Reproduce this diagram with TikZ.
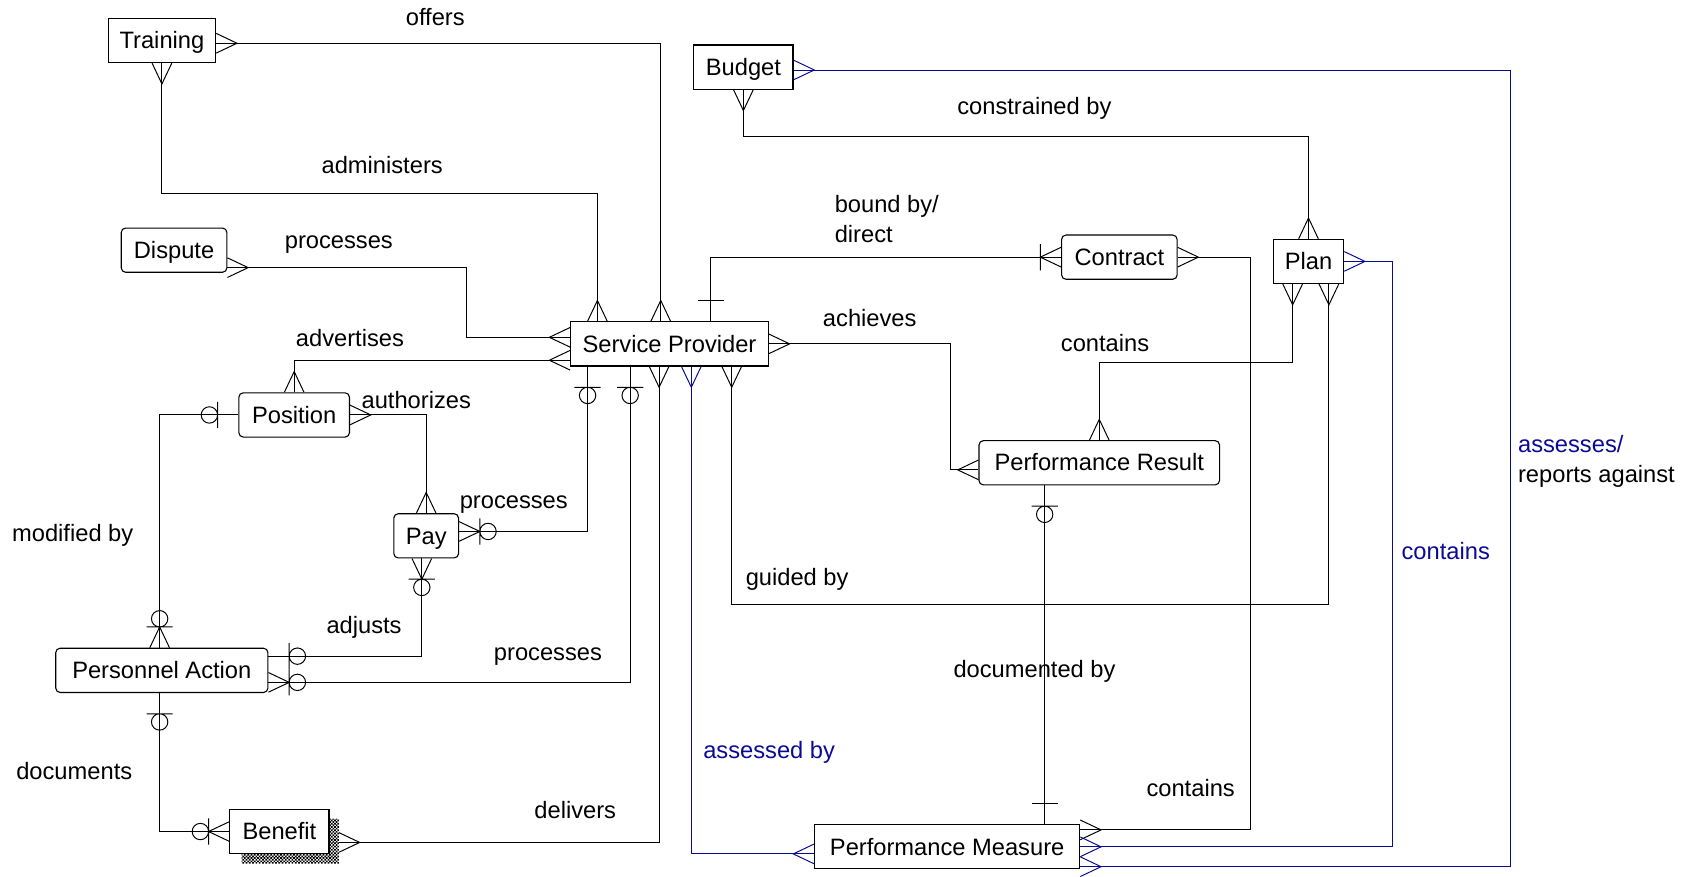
\documentclass[tikz,border=0pt]{standalone}
\usepackage{fontspec}
\setmainfont{Liberation Sans}
\usetikzlibrary{patterns}

\definecolor{erblue}{RGB}{10,10,150}

% crow's foot parts
\newcommand{\ersetup}{\pgfarrowssettipend{0pt}\pgfarrowssetlineend{0pt}\pgfarrowssetbackend{-34pt}%
	\pgfarrowshullpoint{0pt}{12pt}\pgfarrowshullpoint{0pt}{-12pt}%
	\pgfarrowshullpoint{-34pt}{12pt}\pgfarrowshullpoint{-34pt}{-12pt}}
\newcommand{\ercrow}{\pgfpathmoveto{\pgfqpoint{0pt}{9pt}}\pgfpathlineto{\pgfqpoint{-19pt}{0pt}}\pgfpathlineto{\pgfqpoint{0pt}{-9pt}}}
\newcommand{\erbar}{\pgfpathmoveto{\pgfqpoint{-19pt}{12pt}}\pgfpathlineto{\pgfqpoint{-19pt}{-12pt}}}
\newcommand{\erring}{\pgfpathcircle{\pgfqpoint{-26.5pt}{0pt}}{7.5pt}}

\pgfdeclarearrow{name = crow, setup code = {\ersetup}, drawing code = {\ercrow\pgfusepathqstroke}}
\pgfdeclarearrow{name = crowbar, setup code = {\ersetup}, drawing code = {\ercrow\erbar\pgfusepathqstroke}}
\pgfdeclarearrow{name = onebar, setup code = {\ersetup}, drawing code = {\erbar\pgfusepathqstroke}}
\pgfdeclarearrow{name = zeroone, setup code = {\ersetup}, drawing code = {\erbar\erring\pgfusepathqstroke}}
\pgfdeclarearrow{name = zeromany, setup code = {\ersetup}, drawing code = {\ercrow\erbar\erring\pgfusepathqstroke}}

% small checks for the shadow
\pgfdeclarepatternformonly{finechecker}{\pgfqpoint{-.1pt}{-.1pt}}{\pgfqpoint{3.1pt}{3.1pt}}{\pgfqpoint{3pt}{3pt}}{%
	\pgfpathrectangle{\pgfqpoint{0pt}{0pt}}{\pgfqpoint{1.55pt}{1.55pt}}%
	\pgfpathrectangle{\pgfqpoint{1.5pt}{1.5pt}}{\pgfqpoint{1.55pt}{1.55pt}}%
	\pgfusepath{fill}}

\begin{document}
\begin{tikzpicture}[x = 1pt, y = -1pt, line width = .9pt,
	box/.style = {draw = black, fill = white, line width = 1pt, inner sep = 0pt, minimum height = 40.5pt, text height = 17.5pt, text depth = 2.5pt, font = \fontsize{21.7}{26}\selectfont},
	rbox/.style = {box, rounded corners = 4pt},
	lbl/.style = {inner sep = 0pt, anchor = base, font = \fontsize{21.7}{27.5}\selectfont}]
	\useasboundingbox (0, 0) rectangle (1559.6, 803.1);

	% entities
	\node (training) at (148.3, 37.1) [box, minimum width = 98.5pt] {Training};
	\node (dispute) at (159.4, 229.1) [rbox, minimum width = 96.7pt] {Dispute};
	\node (position) at (269.4, 380) [rbox, minimum width = 101.3pt] {Position};
	\node (pay) at (390.3, 490.7) [rbox, minimum width = 59.3pt] {Pay};
	\node (action) at (148.2, 613.9) [rbox, minimum width = 194.3pt] {Personnel Action};
	\node (benefit) at (255.9, 761.5) [box, minimum width = 90.8pt] {Benefit};
	\node (provider) at (613.1, 314.9) [box, minimum width = 181pt] {Service Provider};
	\node (budget) at (680.8, 61.5) [box, minimum width = 90.9pt] {Budget};
	\node (contract) at (1025.1, 235.5) [rbox, minimum width = 105.8pt] {Contract};
	\node (plan) at (1198.3, 239.4) [box, minimum width = 64.5pt] {Plan};
	\node (result) at (1006.7, 423.8) [rbox, minimum width = 220.3pt] {Performance Result};
	\node (measure) at (867.4, 775.5) [box, minimum width = 242.9pt] {Performance Measure};

	\fill[pattern = finechecker] ([yshift=-9pt]benefit.north east) -| ([shift={(8.6pt,-8.6pt)}]benefit.south east)
		-| ([xshift=-80.5pt]benefit.south east) -- (benefit.south east) -- cycle;

	% relationships
	\draw[crow-crow] ([yshift=-2.5pt]training.east) -| ([xshift=-8pt]provider.north);
	\draw[crow-crow] (training.south) -- ++(0, 119) -| ([xshift=-66pt]provider.north);
	\draw[crow-crow] ([yshift=-16pt]dispute.east) -- ++(218.5, 0) |- ([yshift=6pt]provider.west);
	\draw[crow-crow] ([yshift=-15pt]provider.west) -| (position.north);
	\draw[crow-crow] (position.east) -| (pay.north);
	\draw[zeroone-zeromany] (position.west) -| ([xshift=-2pt]action.north);
	\draw[zeromany-zeroone] ([yshift=4pt]pay.east) -| ([xshift=-75pt]provider.south);
	\draw[zeromany-zeroone] ([xshift=-4pt]pay.south) |- ([yshift=13pt]action.east);
	\draw[zeromany-zeroone] ([yshift=-11pt]action.east) -| ([xshift=-36pt]provider.south);
	\draw[zeroone-zeromany] ([xshift=-2pt]action.south) |- (benefit.west);
	\draw[crow-crow] ([shift={(8.6pt,-10pt)}]benefit.east) -| ([xshift=-9.5pt]provider.south);
	\draw[erblue, crow-crow] ([xshift=20pt]provider.south) |- ([yshift=-6.5pt]measure.west);
	\draw[crow-crow] ([xshift=57pt]provider.south) -- ++(0, 218) -| ([xshift=18.7pt]plan.south);
	\draw[onebar-crowbar] ([xshift=37.7pt]provider.north) |- (contract.west);
	\draw[crow-crow] (provider.east) -- ++(166.6, 0) |- ([yshift=-6.5pt]result.west);
	\draw[crow-crow] ([xshift=-14.5pt]plan.south) -- ++(0, 72) -| (result.north);
	\coordinate (doc) at ([xshift=-50pt]result.south);
	\draw[zeroone-onebar] (doc) -- (doc |- measure.north);
	\draw[crow-crow] (budget.south) -- ++(0, 42.3) -| (plan.north);
	\draw[crow-crow] (contract.east) -- ++(66.4, 0) |- ([yshift=15.5pt]measure.east);
	\draw[erblue, crow-crow] (plan.east) -- ++(44.2, 0) |- (measure.east);
	\draw[erblue, crow-crow] ([yshift=-2.6pt]budget.east) -- ++(656.2, 0) |- ([yshift=-18.2pt]measure.east);

	% labels
	\node (offers) at (398.6, 22.9) [lbl] {offers};
	\node (administers) at (350, 158.7) [lbl] {administers};
	\node (processes1) at (310.3, 227.4) [lbl] {processes};
	\node (advertises) at (320.5, 317.5) [lbl] {advertises};
	\node (authorizes) at (381.2, 374) [lbl] {authorizes};
	\node (processes2) at (470.5, 465.5) [lbl] {processes};
	\node (modified) at (66.6, 496) [lbl] {modified by};
	\node (adjusts) at (333.4, 580) [lbl] {adjusts};
	\node (processes3) at (501.8, 605) [lbl] {processes};
	\node (documents) at (68, 714.3) [lbl] {documents};
	\node (delivers) at (526.8, 749.4) [lbl] {delivers};
	\node (constrained) at (947.3, 105.3) [lbl] {constrained by};
	\node (bound) at (764, 200.3) [lbl, anchor = west, align = left] {bound by/\\direct};
	\node (achieves) at (796.5, 299.1) [lbl] {achieves};
	\node (contains1) at (1012, 322) [lbl] {contains};
	\node (assesses) at (1389.8, 422.8) [lbl, anchor = west, align = left] {\textcolor{erblue}{assesses/}\\reports against};
	\node (guided) at (730, 536.6) [lbl] {guided by};
	\node (documented) at (947.4, 620.6) [lbl] {documented by};
	\node (assessed) at (704.4, 694.4) [lbl, text = erblue] {assessed by};
	\node (contains2) at (1090.4, 729.6) [lbl] {contains};
	\node (contains3) at (1324, 512.8) [lbl, text = erblue] {contains};
\end{tikzpicture}
\end{document}
